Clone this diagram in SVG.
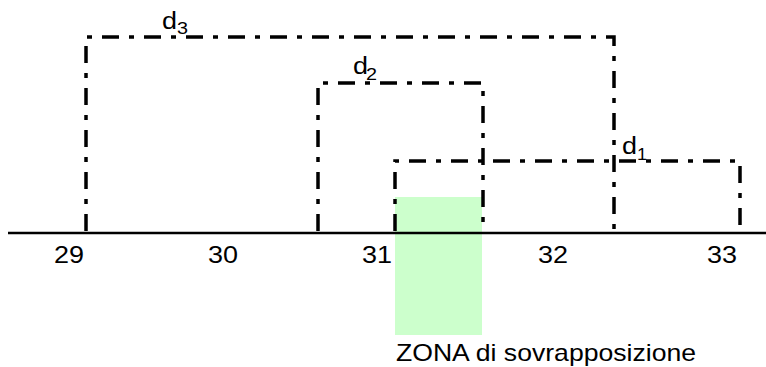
<svg xmlns="http://www.w3.org/2000/svg" width="766" height="367" viewBox="0 0 766 367">
<style>
.box{fill:none;stroke:#000;stroke-width:3.5;stroke-dasharray:17 10 5 10}
.t{font-family:"Liberation Sans",Arial,sans-serif;fill:#000}
.d{font-size:23px}
.s{font-size:16px}
.n{font-size:23px}
</style>
<rect width="766" height="367" fill="#fff"/>
<g id="zona">
<rect x="395" y="197" width="87" height="138" fill="#ccffcc"/>
<text class="t" x="396" y="361" font-size="24" textLength="300" lengthAdjust="spacingAndGlyphs">ZONA di sovrapposizione</text>
</g>
<g id="connectors">
<line x1="8" y1="233" x2="766" y2="233" stroke="#000" stroke-width="2.5"/>
</g>
<g id="d3">
<path class="box" d="M86 231 V37 H614 V231"/>
<text class="t d" x="162" y="29" textLength="15" lengthAdjust="spacingAndGlyphs">d</text>
<text class="t s" x="177" y="34" textLength="11" lengthAdjust="spacingAndGlyphs">3</text>
</g>
<g id="d2">
<path class="box" d="M318 231 V83 H483 V231"/>
<text class="t d" x="353" y="74" textLength="15" lengthAdjust="spacingAndGlyphs">d</text>
<text class="t s" x="366" y="80" textLength="11" lengthAdjust="spacingAndGlyphs">2</text>
</g>
<g id="d1">
<path class="box" d="M395 231 V161 H740 V231"/>
<text class="t d" x="622" y="154" textLength="15" lengthAdjust="spacingAndGlyphs">d</text>
<text class="t s" x="637" y="160" textLength="10" lengthAdjust="spacingAndGlyphs">1</text>
</g>
<g id="ticks" class="t n">
<text x="54" y="263" textLength="30" lengthAdjust="spacingAndGlyphs">29</text>
<text x="208" y="263" textLength="30" lengthAdjust="spacingAndGlyphs">30</text>
<text x="362" y="263" textLength="30" lengthAdjust="spacingAndGlyphs">31</text>
<text x="538" y="263" textLength="30" lengthAdjust="spacingAndGlyphs">32</text>
<text x="707" y="263" textLength="30" lengthAdjust="spacingAndGlyphs">33</text>
</g>
</svg>
